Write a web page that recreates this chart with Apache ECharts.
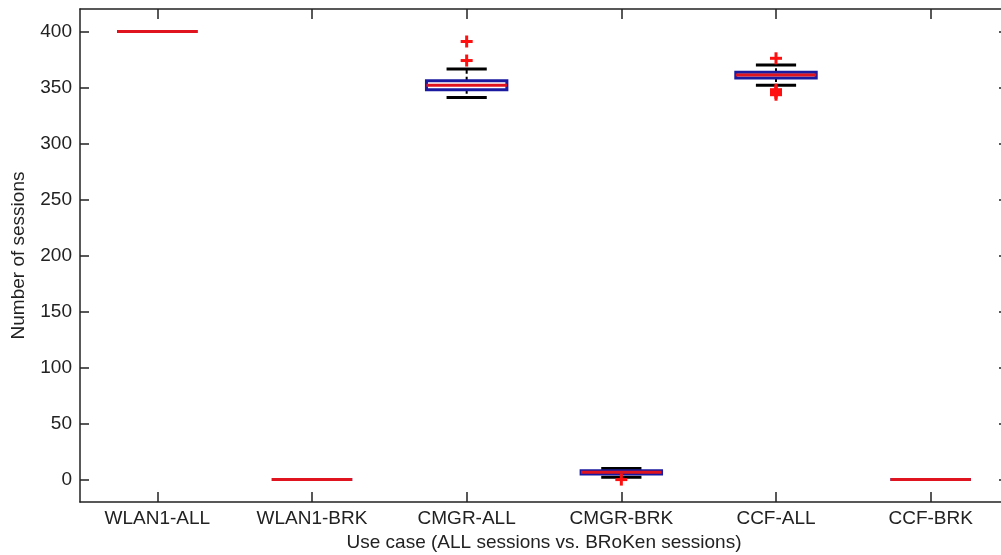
<!DOCTYPE html>
<html>
<head>
<meta charset="utf-8">
<script src="https://cdn.jsdelivr.net/npm/echarts@6/dist/echarts.min.js"></script>
<style>
  html, body { margin: 0; padding: 0; background: #fff; }
  #main { width: 1001px; height: 555px; }
</style>
</head>
<body>
<div id="main"></div>
<script>
// use cases on the x axis
const categories = ['WLAN1-ALL', 'WLAN1-BRK', 'CMGR-ALL', 'CMGR-BRK', 'CCF-ALL', 'CCF-BRK'];

// box statistics per use case (number of sessions)
const lowerWhisker = [400, 0, 341, 2, 352, 0];
const lowerQuartile = [400, 0, 348, 5, 358.5, 0];
const medians = [400, 0, 352, 6.5, 361, 0];
const upperQuartile = [400, 0, 356, 8, 363.5, 0];
const upperWhisker = [400, 0, 366.5, 10, 370, 0];

// outliers: [category index, value]
const outliers = [[2, 391], [2, 374], [3, 0], [4, 376], [4, 348], [4, 346.5], [4, 345], [4, 343.5]];

const yTicks = [0, 50, 100, 150, 200, 250, 300, 350, 400];

const boxData = categories.map((c, i) => [i, lowerWhisker[i], lowerQuartile[i], medians[i], upperQuartile[i], upperWhisker[i]]);

const FONT = 'Liberation Sans, Arial, sans-serif';
const FONT_SIZE = 19;
const AXIS_COLOR = '#222';

function renderBox(params, api) {
    const idx = api.value(0);
    const band = api.size([1, 0])[0];
    const half = band * 0.26;
    const capHalf = band * 0.13;
    const x = api.coord([idx, 0])[0];
    const yLo = api.coord([idx, api.value(1)])[1];
    const yQ1 = api.coord([idx, api.value(2)])[1];
    const yMed = api.coord([idx, api.value(3)])[1];
    const yQ3 = api.coord([idx, api.value(4)])[1];
    const yHi = api.coord([idx, api.value(5)])[1];

    const black = { stroke: '#000', lineWidth: 3 };
    return {
        type: 'group',
        children: [
            { type: 'line', shape: { x1: x, y1: yQ3, x2: x, y2: yHi }, style: { stroke: '#000', lineWidth: 2, lineDash: [4, 3] } },
            { type: 'line', shape: { x1: x, y1: yQ1, x2: x, y2: yLo }, style: { stroke: '#000', lineWidth: 2, lineDash: [4, 3] } },
            { type: 'line', shape: { x1: x - capHalf, y1: yHi, x2: x + capHalf, y2: yHi }, style: black },
            { type: 'line', shape: { x1: x - capHalf, y1: yLo, x2: x + capHalf, y2: yLo }, style: black },
            { type: 'rect', shape: { x: x - half, y: yQ3, width: half * 2, height: yQ1 - yQ3 }, style: { fill: 'none', stroke: '#1a1aa0', lineWidth: 3 } },
            { type: 'line', shape: { x1: x - half, y1: yMed, x2: x + half, y2: yMed }, style: { stroke: '#e0141e', lineWidth: 3 } }
        ]
    };
}

function renderOutlier(params, api) {
    const p = api.coord([api.value(0), api.value(1)]);
    const s = 6;
    const st = { stroke: '#ff1010', lineWidth: 3 };
    return {
        type: 'group',
        children: [
            { type: 'line', shape: { x1: p[0] - s, y1: p[1], x2: p[0] + s, y2: p[1] }, style: st },
            { type: 'line', shape: { x1: p[0], y1: p[1] - s, x2: p[0], y2: p[1] + s }, style: st }
        ]
    };
}

const axisLine = { show: true, onZero: false, lineStyle: { color: AXIS_COLOR, width: 1.5 } };
const tickStyle = { color: AXIS_COLOR, width: 1.5 };
const xTick = { show: true, interval: 0, alignWithLabel: true, inside: true, length: 10, lineStyle: tickStyle };

const chart = echarts.init(document.getElementById('main'));

chart.setOption({
    backgroundColor: '#fff',
    animation: false,
    grid: { left: 80, top: 9, width: 928, height: 493, containLabel: false, outerBoundsMode: 'none' },
    xAxis: [
        {
            type: 'category',
            data: categories,
            position: 'bottom',
            name: 'Use case (ALL sessions vs. BRoKen sessions)',
            nameLocation: 'middle',
            nameGap: 31,
            nameTextStyle: { fontFamily: FONT, fontSize: FONT_SIZE, color: '#222' },
            axisLine: axisLine,
            axisTick: xTick,
            axisLabel: { fontFamily: FONT, fontSize: FONT_SIZE, color: '#222', margin: 7 },
            splitLine: { show: false }
        },
        {
            type: 'category',
            data: categories,
            position: 'top',
            axisLine: axisLine,
            axisTick: xTick,
            axisLabel: { show: false },
            splitLine: { show: false }
        }
    ],
    yAxis: [
        {
            type: 'value',
            min: -20,
            max: 420,
            position: 'left',
            name: 'Number of sessions',
            nameLocation: 'middle',
            nameGap: 52,
            nameRotate: 90,
            nameTextStyle: { fontFamily: FONT, fontSize: FONT_SIZE, color: '#222' },
            axisLine: axisLine,
            axisTick: { show: true, inside: true, length: 9, customValues: yTicks, lineStyle: tickStyle },
            axisLabel: { customValues: yTicks, fontFamily: FONT, fontSize: FONT_SIZE, color: '#222', margin: 8 },
            splitLine: { show: false }
        },
        {
            type: 'value',
            min: -20,
            max: 420,
            position: 'right',
            axisLine: axisLine,
            axisTick: { show: true, inside: true, length: 9, customValues: yTicks, lineStyle: tickStyle },
            axisLabel: { show: false },
            splitLine: { show: false }
        }
    ],
    series: [
        {
            type: 'custom',
            name: 'box',
            renderItem: renderBox,
            encode: { x: 0, y: [1, 2, 3, 4, 5] },
            data: boxData,
            z: 2
        },
        {
            type: 'custom',
            name: 'outliers',
            renderItem: renderOutlier,
            encode: { x: 0, y: 1 },
            data: outliers,
            z: 3
        }
    ]
});
</script>
</body>
</html>
